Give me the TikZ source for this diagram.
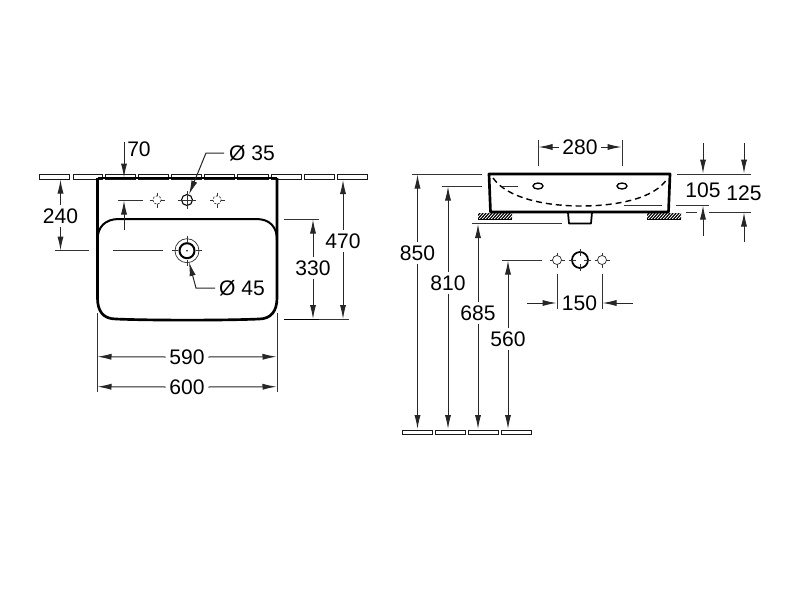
\documentclass[tikz,border=0pt]{standalone}
\usepackage{fontspec}
\setmainfont{Liberation Sans}
\usetikzlibrary{arrows.meta}
\tikzset{
  every picture/.style={x=0.75pt,y=-0.75pt},
  dimline/.style={line width=0.75pt,draw=black!85},
  dimarrow/.style={dimline,-{Latex[length=10.5pt,width=4.6pt]}},
  extline/.style={line width=0.72pt,draw=black!80},
  wall/.style={line width=2pt,line join=round},
  tile/.style={line width=0.62pt,draw=black!90,fill=white},
  lbl/.style={inner sep=0pt,outer sep=2.8pt,text height=10.8pt,text depth=0pt,font=\fontsize{15.8}{16}\selectfont},
  thinmark/.style={line width=0.55pt,draw=black!80},
  holeline/.style={line width=0.8pt},
}
\newcommand{\tileat}[3]{\draw[tile] (#1,#3) rectangle (#2,#3+4.5);}
\newcommand{\crossmark}[3]{%
  \draw[thinmark] (#1-#3,#2) -- (#1-#3+3.5,#2) (#1+#3-3.5,#2) -- (#1+#3,#2)
                  (#1,#2-#3) -- (#1,#2-#3+3.5) (#1,#2+#3-3.5) -- (#1,#2+#3);}
\begin{document}
\begin{tikzpicture}
\useasboundingbox (0,0) rectangle (800,600);
\fill[white] (0,0) rectangle (800,600);

% ---------- tile strips
\foreach \a/\b in {39.5/69.5,73/102.5,105.5/135.5,138.5/168.5,171.5/201.5,204.5/234.5,237.5/268.5,271.5/301.5,304.5/334.5,337.5/367}
  {\tileat{\a}{\b}{174.5}}
\foreach \a/\b in {402.5/432.5,435.5/465.5,468.5/498.5,501.5/531.5}
  {\tileat{\a}{\b}{430}}

% ---------- plan view of the basin
\draw[wall] (97.5,178) -- (277,178);
\draw[wall] (97.5,178) -- (97.5,298) .. controls (97.5,311) and (103,319) .. (116,319)
   .. controls (150,320.5) and (225,320.5) .. (259,319)
   .. controls (271,319) and (277,311) .. (277,298) -- (277,178);
\draw[line width=1.5pt] (97.5,240) .. controls (97.5,227) and (105,219) .. (119,219)
   -- (256,219) .. controls (270,219) and (277,227) .. (277,240);

% tap holes, plan
\draw[thinmark,dash pattern=on 1.6pt off 1.1pt] (157,200) circle (4.2);
\crossmark{157}{200}{7.5}
\draw[thinmark,dash pattern=on 1.6pt off 1.1pt] (217,200) circle (4.2);
\crossmark{217}{200}{7.5}
\draw[holeline] (187,200) circle (5.5);
\draw[thinmark] (178,200) -- (196,200) (187,191) -- (187,209);
% waste, plan
\draw[line width=1.5pt] (187,250.7) circle (7.5);
\draw[thinmark] (187,250.7) circle (12);
\draw[thinmark] (172,250.7) -- (178,250.7) (196,250.7) -- (202,250.7)
  (187,235.7) -- (187,241.5) (187,260) -- (187,265.7);
\fill (187,250.7) circle (0.8);

% dimensions, plan
\node[lbl] (d70) at (139,149) {70};
\draw[dimarrow] (124,142) -- (124,177.5);

\node[lbl] (d240) at (60.5,216) {240};
\draw[dimarrow] (d240.north) -- (60.5,179.5);
\draw[dimarrow] (d240.south) -- (60.5,250.5);
\draw[extline] (55,250.7) -- (89,250.7);
\draw[extline] (113,250.7) -- (163,250.7);
\draw[extline] (118,200) -- (143,200);
\draw[dimarrow] (124,230) -- (124,200.5);

\node[lbl] (d330) at (313,268) {330};
\node[lbl] (d470) at (343,241) {470};
\draw[extline] (284,219) -- (319,219);
\draw[line width=1.1pt] (284,319.5) -- (319,319.5);
\draw[extline] (319,319.5) -- (349,319.5);
\draw[dimarrow] (d330.north) -- (313,219.5);
\draw[dimarrow] (d330.south) -- (313,319);
\draw[dimarrow] (d470.north) -- (343,180);
\draw[dimarrow] (d470.south) -- (343,319);

\node[lbl] (d590) at (187,357) {590};
\node[lbl] (d600) at (187,387) {600};
\draw[extline] (97,313) -- (97,392);
\draw[extline] (277,313) -- (277,392);
\draw[dimarrow] (d590.west) -- (97.5,356.7);
\draw[dimarrow] (d590.east) -- (276.5,356.7);
\draw[dimarrow] (d600.west) -- (97.5,386.7);
\draw[dimarrow] (d600.east) -- (276.5,386.7);

\node[lbl,anchor=west] (d35) at (225.5,153) {Ø 35};
\draw[dimarrow] (224,153) -- (206,153) -- (189,194.5);
\node[lbl,anchor=west] (d45) at (215.5,288) {Ø 45};
\draw[dimarrow] (215,288) -- (196,288) -- (189,262);

% ---------- side view of the basin
\draw[wall] (489,174) -- (670,174) -- (668.5,212) -- (490.5,212) -- cycle;
\draw[line width=1.3pt,line join=round] (568,212.5) -- (569,223.5) -- (591,223.5) -- (592,212.5);
\draw[line width=1.05pt,dash pattern=on 4.5pt off 3pt]
  (493,178) .. controls (507,198) and (545,206) .. (581,206)
            .. controls (618,206) and (655,198) .. (667,179);
\draw[line width=1pt] (538,186) ellipse (5 and 3);
\draw[line width=1pt] (622,186) ellipse (5 and 3);
\draw[extline] (502,186) -- (518,186);
\draw[extline] (624,205) -- (662,205);

% wall-hatch blocks
\foreach \x/\y in {478/512,647/681}{
  \begin{scope}
    \clip (\x,213.5) rectangle (\y,219.5);
    \foreach \k in {-8,-5,...,40}{
      \draw[line width=0.85pt] (\x+\k,221) -- (\x+\k+8,212);
    }
  \end{scope}
  \draw[line width=0.7pt] (\x,219) -- (\y,219);
}

% height dimensions
\draw[extline] (412,174) -- (482,174);
\draw[extline] (442,186) -- (482,186);
\draw[extline] (472,223.5) -- (562,223.5);
\draw[extline] (502,260) -- (542,260);
\node[lbl] (d850) at (417.5,253) {850};
\node[lbl] (d810) at (448,283) {810};
\node[lbl] (d685) at (478,313) {685};
\node[lbl] (d560) at (508,339) {560};
\draw[dimarrow] (d850.north) -- (417.5,174.5);
\draw[dimarrow] (d850.south) -- (417.5,429);
\draw[dimarrow] (d810.north) -- (448,186.5);
\draw[dimarrow] (d810.south) -- (448,429);
\draw[dimarrow] (d685.north) -- (478,224);
\draw[dimarrow] (d685.south) -- (478,429);
\draw[dimarrow] (d560.north) -- (508,260.5);
\draw[dimarrow] (d560.south) -- (508,429);

% 280
\node[lbl] (d280) at (580,147) {280};
\draw[extline] (538,140) -- (538,166);
\draw[extline] (622,140) -- (622,166);
\draw[dimarrow] (d280.west) -- (538.5,147);
\draw[dimarrow] (d280.east) -- (621.5,147);

% 105 / 125
\node[lbl] (d105) at (703,190) {105};
\node[lbl] (d125) at (744,193) {125};
\coordinate (t105) at (703,143);
\coordinate (t125) at (744,143);
\coordinate (b105) at (703,236);
\coordinate (b125) at (744,242);
\draw[extline] (677,174) -- (751,174);
\draw[extline] (676,205) -- (709,205);
\draw[extline] (686,212) -- (697,212);
\draw[extline] (709,212) -- (751,212);
\draw[dimarrow] (t105) -- (703,173.5);
\draw[dimarrow] (t125) -- (744,173.5);
\draw[dimarrow] (b105) -- (703,205.5);
\draw[dimarrow] (b125) -- (744,212.5);

% ---------- tap hole layout
\draw[thinmark] (557,260) circle (4.5);
\draw[thinmark] (602,260) circle (4.5);
\crossmark{557}{260}{7.5}
\crossmark{602}{260}{7.5}
\draw[line width=1.3pt] (580,260) circle (8);
\draw[thinmark] (569,260) -- (576,260) (584,260) -- (591,260)
  (580,249) -- (580,256) (580,264) -- (580,271);

\node[lbl] (d150) at (579.5,303) {150};
\draw[extline] (557,274) -- (557,309);
\draw[extline] (602,274) -- (602,309);
\coordinate (l150) at (527,303);
\coordinate (r150) at (633,303);
\draw[dimarrow] (l150) -- (556.5,303);
\draw[dimarrow] (r150) -- (602.5,303);
\end{tikzpicture}
\end{document}
